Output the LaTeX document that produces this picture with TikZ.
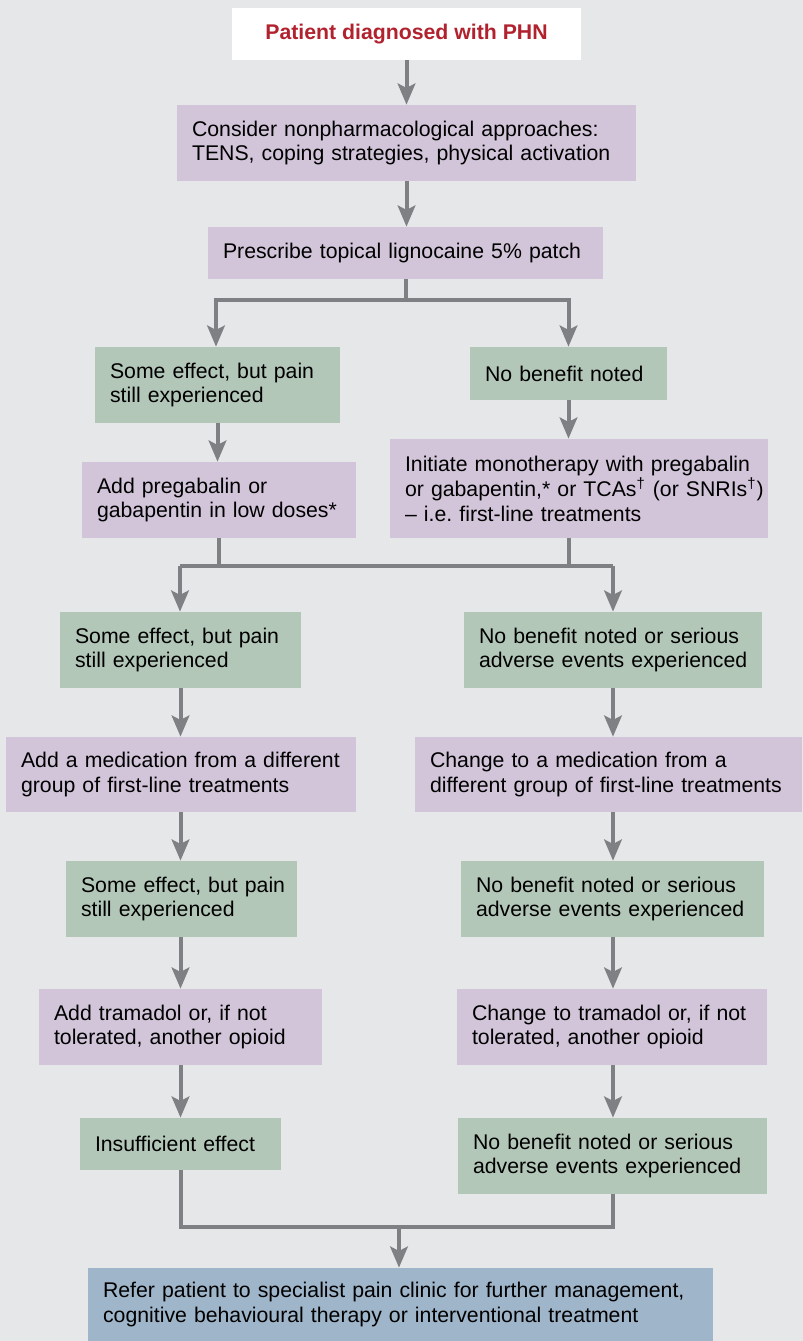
\documentclass[tikz,border=0pt]{standalone}
\usepackage{fontspec}
\setmainfont{Liberation Sans}
\usetikzlibrary{arrows.meta}
\definecolor{bgcol}{HTML}{E6E7E9}
\definecolor{lilac}{HTML}{D2C5DA}
\definecolor{sage}{HTML}{B3C7B9}
\definecolor{steel}{HTML}{9FB5CA}
\definecolor{phnred}{HTML}{B1222E}
\definecolor{linegray}{HTML}{7F8083}
\tikzset{
	box/.style={inner xsep=0.3cm, inner ysep=0pt, align=left, font=\fontsize{12.1}{14.2}\selectfont},
	pbox/.style={box, fill=lilac},
	gbox/.style={box, fill=sage},
	conn/.style={draw=linegray, line width=0.08cm},
	arr/.style={conn, -{Stealth[length=12pt,width=10pt,inset=2.5pt]}},
}

\begin{document}
\begin{tikzpicture}[x=0.02cm, y=-0.02cm]
		%%%%% BACKGROUND %%%%%
		\fill[bgcol] (0, 0) rectangle (803, 1341);
		\useasboundingbox (0, 0) rectangle (803, 1341);
		
		%%%%% BOXES %%%%%
		\node[box, fill=white, align=center, minimum width=6.98cm, minimum height=1.04cm, text=phnred, font=\fontsize{12.1}{14.2}\selectfont\bfseries] (start) at (406.5, 34) {Patient diagnosed with PHN};
		\node[pbox, text width=8.58cm, minimum height=1.52cm] (b1) at (406.5, 143) {Consider nonpharmacological approaches:\\TENS, coping strategies, physical activation};
		\node[pbox, text width=7.30cm, minimum height=1.04cm] (b2) at (405.5, 253) {Prescribe topical lignocaine 5\% patch};
		
		\node[gbox, text width=4.30cm, minimum height=1.52cm] (g1) at (217.5, 385) {Some effect, but pain\\still experienced};
		\node[gbox, text width=3.34cm, minimum height=1.06cm] (g2) at (568.5, 373.5) {No benefit noted};
		\node[pbox, text width=4.88cm, minimum height=1.52cm] (p1) at (219, 500) {Add pregabalin or\\gabapentin in low doses*};
		\node[pbox, text width=6.96cm, minimum height=1.98cm] (p2) at (579, 488.5) {Initiate monotherapy with pregabalin\\\mbox{or gabapentin,* or TCAs\textsuperscript{†} (or SNRIs\textsuperscript{†})}\\-- i.e.\ first-line treatments};
		
		\node[gbox, text width=4.22cm, minimum height=1.52cm] (g3) at (180.5, 650) {Some effect, but pain\\still experienced};
		\node[gbox, text width=5.36cm, minimum height=1.52cm] (g4) at (613, 650) {No benefit noted or serious\\\mbox{adverse events experienced}};
		\node[pbox, text width=6.40cm, minimum height=1.50cm] (p3) at (181, 774.5) {\mbox{Add a medication from a different}\\group of first-line treatments};
		\node[pbox, text width=7.14cm, minimum height=1.50cm] (p4) at (608.5, 774.5) {Change to a medication from a\\\mbox{different group of first-line treatments}};
		
		\node[gbox, text width=4.02cm, minimum height=1.52cm] (g5) at (181.5, 899) {\mbox{Some effect, but pain}\\still experienced};
		\node[gbox, text width=5.46cm, minimum height=1.52cm] (g6) at (612.5, 899) {No benefit noted or serious\\\mbox{adverse events experienced}};
		\node[pbox, text width=5.06cm, minimum height=1.52cm] (p5) at (180.5, 1027) {Add tramadol or, if not\\tolerated, another opioid};
		\node[pbox, text width=5.60cm, minimum height=1.52cm] (p6) at (612, 1027) {Change to tramadol or, if not\\tolerated, another opioid};
		
		\node[gbox, text width=3.42cm, minimum height=1.04cm] (g7) at (180.5, 1144) {Insufficient effect};
		\node[gbox, text width=5.58cm, minimum height=1.52cm] (g8) at (612.5, 1156) {No benefit noted or serious\\\mbox{adverse events experienced}};
		
		\node[box, fill=steel, text width=11.90cm, minimum height=1.46cm] (fin) at (400.5, 1304.5) {\mbox{Refer patient to specialist pain clinic for further management,}\\cognitive behavioural therapy or interventional treatment};
		
		%%%%% ARROWS %%%%%
		\draw[arr] (start.south) -- (start.south |- b1.north);
		\draw[arr] (b1.south) -- (b1.south |- b2.north);
		\draw[arr] (b2.south) -- ++(0, 21) -| ([xshift=-1.5*0.02cm]g1.north);
		\draw[arr] (b2.south) -- ++(0, 21) -| (g2.north);
		
		\draw[arr] (g1.south) -- (g1.south |- p1.north);
		\draw[arr] (g2.south) -- (g2.south |- p2.north);
		
		\coordinate (m1) at (180, 566);
		\coordinate (m2) at (613, 566);
		\draw[conn] (p1.south) -- (p1.south |- m1);
		\draw[conn] (p2.south -| g2.south) -- (g2.south |- m2);
		\draw[conn] (m1) -- (m2);
		\draw[arr] (m1) -- (m1 |- g3.north);
		\draw[arr] (m2) -- (m2 |- g4.north);
		
		\draw[arr] (g3.south) -- (g3.south |- p3.north);
		\draw[arr] (g4.south) -- (g4.south |- p4.north);
		\draw[arr] (g3.south |- p3.south) -- (g3.south |- g5.north);
		\draw[arr] (g4.south |- p4.south) -- (g4.south |- g6.north);
		\draw[arr] (g3.south |- g5.south) -- (g3.south |- p5.north);
		\draw[arr] (g4.south |- g6.south) -- (g4.south |- p6.north);
		\draw[arr] (g3.south |- p5.south) -- (g3.south |- g7.north);
		\draw[arr] (g4.south |- p6.south) -- (g4.south |- g8.north);
		
		\coordinate (m3) at (399, 1227);
		\draw[conn] (g7.south) |- (m3) -| (g8.south);
		\draw[arr] (m3) -- (m3 |- fin.north);
		%%%%% END %%%%%
\end{tikzpicture}
\end{document}
